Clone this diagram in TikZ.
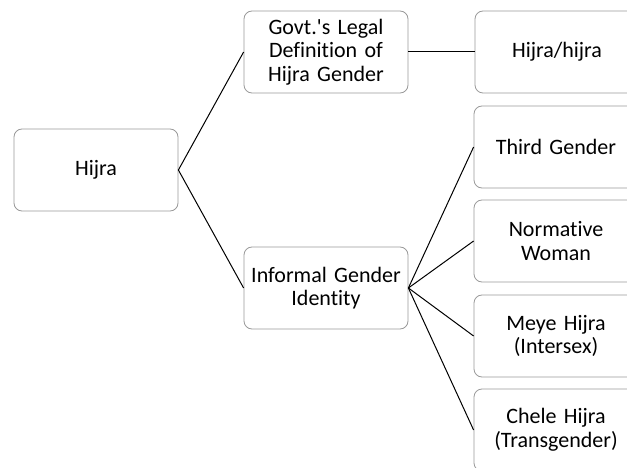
\documentclass[tikz,border=0pt]{standalone}
\usepackage{fontspec}
\setmainfont[Ligatures={NoCommon,TeXOff},WordSpace=0.8]{Carlito}
\begin{document}
\begin{tikzpicture}[x=1pt,y=-1pt,
  box/.style={draw=black!40, line width=0.8pt, rounded corners=8pt, fill=white,
    minimum width=164pt, minimum height=82pt, text width=158pt, align=center,
    inner sep=0pt, font=\fontsize{22}{23.5}\selectfont},
  link/.style={draw=black, line width=1pt}]
  \useasboundingbox (0,0) rectangle (627,468);
  \clip (0,0) rectangle (627,468);
  \fill[white] (0,0) rectangle (627,468);

  % root
  \node[box] (root) at (96,170) {Hijra};
  % second level
  \node[box] (govt) at (326,52) {Govt.'s Legal\\Definition of\\Hijra Gender};
  \node[box] (informal) at (326,288) {Informal Gender\\Identity};
  % leaves
  \node[box] (legal) at (557,52) {Hijra/hijra};
  \node[box] (third) at (556,147) {Third Gender};
  \node[box] (woman) at (556,241) {Normative\\Woman};
  \node[box] (meye) at (556,336) {Meye Hijra\\(Intersex)};
  \node[box] (chele) at (556,430) {Chele Hijra\\(Transgender)};

  % connectors
  \draw[link] (root.east) -- (govt.west);
  \draw[link] (root.east) -- (informal.west);
  \draw[link] (govt.east) -- (legal.west);
  \draw[link] (informal.east) -- (third.west);
  \draw[link] (informal.east) -- (woman.west);
  \draw[link] (informal.east) -- (meye.west);
  \draw[link] (informal.east) -- (chele.west);
\end{tikzpicture}
\end{document}
